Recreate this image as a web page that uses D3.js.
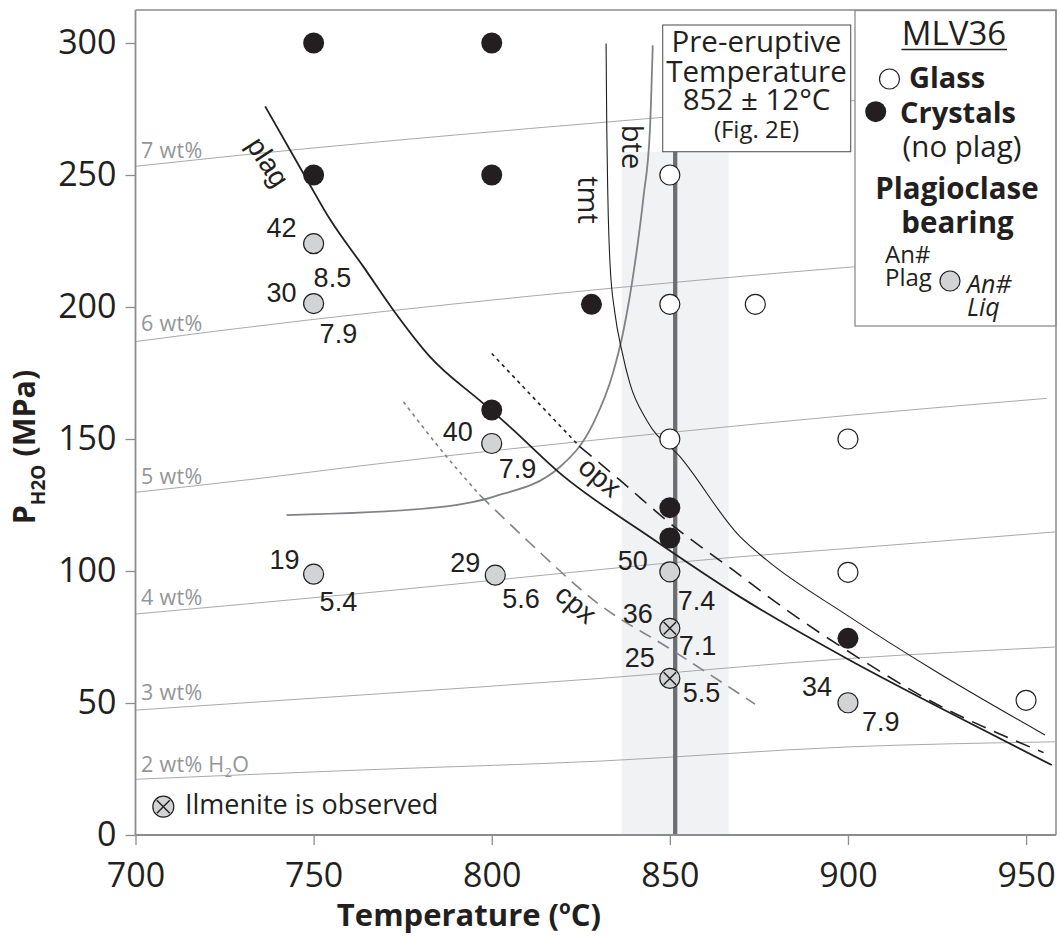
<!DOCTYPE html>
<html><head><meta charset="utf-8">
<script src="https://cdn.jsdelivr.net/npm/d3@7/dist/d3.min.js"></script>
<style>body{margin:0;background:#fff}svg{display:block}</style>
</head><body>
<script>
// ---------- DATA ----------
const xTicks = [700, 750, 800, 850, 900, 950];
const yTicks = [0, 50, 100, 150, 200, 250, 300];

// Glass only (open circles)
const glassPts = [[850, 250], [850, 201], [874, 201], [850, 150], [900, 150], [900, 99.5], [950, 51]];
// Crystals, no plagioclase (filled black)
const crystalPts = [[750, 300], [800, 300], [750, 250], [800, 250], [828, 201], [800, 161], [850, 124], [850, 112.5], [900, 74.5]];
// Plagioclase bearing: T, P, An# plag, An# liq, ilmenite observed
const plagT = [750, 750, 800, 750, 801, 850, 850, 850, 900];
const plagP = [224, 201.3, 148.3, 98.8, 98.4, 99.7, 78.3, 59.3, 50.1];
const anPlag = ["42", "30", "40", "19", "29", "50", "36", "25", "34"];
const anLiq = ["8.5", "7.9", "7.9", "5.4", "5.6", "7.4", "7.1", "5.5", "7.9"];
const ilmenite = [false, false, false, false, false, false, true, true, false];

// Phase-in curves (T °C, P MPa)
const plagCurve = [[736.4, 276], [748.1, 248.3], [754.6, 233.2], [764, 215.2], [772.4, 198.8], [782.7, 181.1], [797.6, 163.5], [805.1, 154.6], [819.2, 137], [844.4, 112.9], [869.7, 90.2], [900.4, 66.3], [928.7, 46.2], [957.2, 26.5]];
const opxDotted = [[800, 182.4], [812, 165.2], [824.8, 147]];
const opxDashed = [[824.8, 147], [836, 134.4], [850.1, 118], [867.8, 100.3], [882.8, 85.2], [902.5, 67.5], [920.2, 53], [954.9, 31.2]];
const cpxDotted = [[775.2, 164.1], [787.4, 143.2], [796.7, 128.7]];
const cpxDashed = [[796.7, 128.7], [810.8, 110.5], [830.4, 87.1], [849.1, 71.3], [873.9, 49.6]];
const tmtCurve = [[832.1, 299.8], [832.3, 266.9], [832.6, 241.7], [833.2, 216.5], [834.6, 197.5], [836.5, 183.6], [838.8, 171], [843.5, 157.1], [852.9, 143.2], [869.7, 113], [877.2, 104.1], [899.7, 83.3], [924, 62.5], [955.3, 37.9]];
const bteCurve = [[742.4, 121.2], [781.8, 123.7], [800.4, 128.1], [819.2, 139.5], [828.5, 155.9], [834.1, 175.3], [837, 191.2], [840.2, 216.5], [842.6, 241.7], [844.4, 266.9], [845.2, 299.1]];

// H2O solubility isopleths
const iso7 = [[700, 253.3], [726.5, 257.1], [810.6, 267.6], [847.7, 271.8], [900, 278], [958, 284]];
const iso6 = [[700, 186.9], [726.5, 191.5], [810.7, 204.1], [858.4, 210.2], [901.5, 215.2], [958, 220.5]];
const iso5 = [[700, 129.8], [735, 135.1], [763, 139.8], [847.2, 152.1], [900.6, 159], [955.8, 165.4]];
const iso4 = [[700, 83.7], [763, 91.5], [869.7, 105.4], [900.6, 108.6], [958.1, 114.8]];
const iso3 = [[700, 47.3], [763, 53], [830.4, 59.3], [900.6, 66.9], [958.1, 71.2]];
const iso2 = [[700, 21.1], [763, 24.6], [830.4, 28], [900.6, 33.4], [958.1, 35.3]];
const isoLabels = ["7 wt%", "6 wt%", "5 wt%", "4 wt%", "3 wt%", "2 wt%"];

// Pre-eruptive temperature estimate (band drawn)
const preT = 851.5;
const bandT = [836.5, 866.5];

// ---------- LAYOUT ----------
const W = 1060, H = 937;
const pL = 135.5, pR = 1056, pT = 10, pB = 835;
const plagLabelOff = [[-17, -7], [-17, -2], [-19, -2], [-14, -5], [-15, -3], [-22, -2], [-17, -5], [-15, -11], [-16, -7]];
const liqLabelOff = [[0, 43], [6, 39], [7, 35], [6, 37], [7, 33], [8, 38], [9, 27], [13, 24], [14, 28]];

const INK = "#231f20", GREY = "#d1d3d4", AXIS = "#8a8c8e", ISO = "#a7a9ac", ISOTXT = "#939598";
const MYR = "'Open Sans', 'Noto Sans', sans-serif";
const HEL = "'Liberation Sans', Arial, sans-serif";

const svg = d3.select("body").append("svg").attr("width", W).attr("height", H);
const x = d3.scaleLinear().domain([700, 958.4]).range([pL, pR]);
const y = d3.scaleLinear().domain([0, 312.5]).range([pB, pT]);

const line = d3.line().x(d => x(d[0])).y(d => y(d[1])).curve(d3.curveMonotoneX);

// shaded band
svg.append("rect").attr("x", x(bandT[0])).attr("y", 152).attr("width", x(bandT[1]) - x(bandT[0]))
  .attr("height", pB - 152).attr("fill", "#f1f2f3");

// isopleths
const isos = [iso7, iso6, iso5, iso4, iso3, iso2];
svg.append("g").selectAll("path").data(isos).join("path")
  .attr("d", line).attr("fill", "none").attr("stroke", ISO).attr("stroke-width", 1);

// isopleth labels
const isoLabY = [158.3, 330.7, 484.3, 605, 700, 771.7];
isoLabels.forEach((t, i) => {
  const tx = svg.append("text").attr("x", 141).attr("y", isoLabY[i])
    .attr("font-family", MYR).attr("font-size", 21.5).attr("letter-spacing", 0.3).attr("fill", ISOTXT).text(t);
  if (i === 5) {
    tx.append("tspan").text(" H");
    tx.append("tspan").attr("font-size", 13).attr("dy", 5).text("2");
    tx.append("tspan").attr("dy", -5).text("O");
  }
});

// vertical pre-eruptive line
svg.append("line").attr("x1", x(preT)).attr("x2", x(preT)).attr("y1", 152).attr("y2", pB)
  .attr("stroke", "#6d6e71").attr("stroke-width", 4.3);

// curves
svg.append("path").attr("d", line(bteCurve)).attr("fill", "none").attr("stroke", "#808285").attr("stroke-width", 1.8);
svg.append("path").attr("d", line(tmtCurve)).attr("fill", "none").attr("stroke", INK).attr("stroke-width", 1.1);
svg.append("path").attr("d", line(plagCurve)).attr("fill", "none").attr("stroke", INK).attr("stroke-width", 1.8);
svg.append("path").attr("d", line(opxDotted)).attr("fill", "none").attr("stroke", INK).attr("stroke-width", 1.6).attr("stroke-dasharray", "3.5,4");
svg.append("path").attr("d", line(opxDashed)).attr("fill", "none").attr("stroke", INK).attr("stroke-width", 1.6).attr("stroke-dasharray", "15,9");
svg.append("path").attr("d", line(cpxDotted)).attr("fill", "none").attr("stroke", "#808285").attr("stroke-width", 1.6).attr("stroke-dasharray", "3.5,4");
svg.append("path").attr("d", line(cpxDashed)).attr("fill", "none").attr("stroke", "#808285").attr("stroke-width", 1.6).attr("stroke-dasharray", "13,8");

// curve labels
function curveLabel(t, cx, cy, rot, fam, size) {
  svg.append("text").attr("transform", `translate(${cx},${cy}) rotate(${rot})`)
    .attr("text-anchor", "middle").attr("dominant-baseline", "central")
    .attr("font-family", fam).attr("font-size", size).attr("fill", INK).text(t);
}
curveLabel("plag", 268, 162, 57, HEL, 28);
curveLabel("opx", 600, 477, 40, HEL, 28);
curveLabel("cpx", 576, 604, 40, HEL, 28);
curveLabel("tmt", 589, 200, 90, MYR, 29);
curveLabel("bte", 633, 147, 90, MYR, 29);

// points
function ilmX(g, cx, cy, r) {
  const k = r * 0.62;
  g.append("path").attr("d", `M${cx - k},${cy - k}L${cx + k},${cy + k}M${cx - k},${cy + k}L${cx + k},${cy - k}`)
    .attr("stroke", INK).attr("stroke-width", 1.4);
}
const gp = svg.append("g");
gp.selectAll(".gl").data(glassPts).join("circle").attr("cx", d => x(d[0])).attr("cy", d => y(d[1])).attr("r", 10)
  .attr("fill", "#fff").attr("stroke", INK).attr("stroke-width", 1.2);
gp.selectAll(".cr").data(crystalPts).join("circle").attr("cx", d => x(d[0])).attr("cy", d => y(d[1])).attr("r", 10.5)
  .attr("fill", INK);
plagT.forEach((t, i) => {
  const cx = x(t), cy = y(plagP[i]);
  gp.append("circle").attr("cx", cx).attr("cy", cy).attr("r", 10).attr("fill", GREY).attr("stroke", INK).attr("stroke-width", 1.2);
  if (ilmenite[i]) ilmX(gp, cx, cy, 10);
  gp.append("text").attr("x", cx + plagLabelOff[i][0]).attr("y", cy + plagLabelOff[i][1]).attr("text-anchor", "end")
    .attr("font-family", HEL).attr("font-size", 27).attr("fill", INK).text(anPlag[i]);
  gp.append("text").attr("x", cx + liqLabelOff[i][0]).attr("y", cy + liqLabelOff[i][1])
    .attr("font-family", HEL).attr("font-size", 27).attr("fill", INK).text(anLiq[i]);
});

// Pre-eruptive box
svg.append("rect").attr("x", 662.7).attr("y", 25).attr("width", 188).attr("height", 126.7)
  .attr("fill", "#fff").attr("stroke", "#58595b").attr("stroke-width", 1.1);
[["Pre-eruptive", 51.7, 29.5], ["Temperature", 81.7, 29.5], ["852 ± 12°C", 110, 29.5], ["(Fig. 2E)", 138.3, 24]].forEach(d => {
  svg.append("text").attr("x", 756.5).attr("y", d[1]).attr("text-anchor", "middle")
    .attr("font-family", MYR).attr("font-size", d[2]).attr("fill", INK).text(d[0]);
});

// Legend box
svg.append("rect").attr("x", 855).attr("y", 10.5).attr("width", 201).attr("height", 315.5)
  .attr("fill", "#fff").attr("stroke", AXIS).attr("stroke-width", 1.3);
svg.append("text").attr("x", 954).attr("y", 45).attr("text-anchor", "middle").attr("font-family", MYR)
  .attr("font-size", 33).attr("fill", INK).text("MLV36");
svg.append("line").attr("x1", 901.5).attr("x2", 1007).attr("y1", 49.5).attr("y2", 49.5).attr("stroke", INK).attr("stroke-width", 1.3);
svg.append("circle").attr("cx", 889.5).attr("cy", 79).attr("r", 10).attr("fill", "#fff").attr("stroke", INK).attr("stroke-width", 1.2);
svg.append("text").attr("x", 909).attr("y", 88.3).attr("font-family", MYR).attr("font-weight", "bold")
  .attr("font-size", 29).attr("fill", INK).text("Glass");
svg.append("circle").attr("cx", 875.7).attr("cy", 111.7).attr("r", 10.5).attr("fill", INK);
svg.append("text").attr("x", 900).attr("y", 123.3).attr("font-family", MYR).attr("font-weight", "bold")
  .attr("font-size", 29).attr("fill", INK).text("Crystals");
svg.append("text").attr("x", 962).attr("y", 157).attr("text-anchor", "middle").attr("font-family", MYR)
  .attr("font-size", 29.5).attr("fill", INK).text("(no plag)");
svg.append("text").attr("x", 957).attr("y", 199.3).attr("text-anchor", "middle").attr("font-family", MYR).attr("font-weight", "bold")
  .attr("font-size", 29.5).attr("fill", INK).text("Plagioclase");
svg.append("text").attr("x", 957.5).attr("y", 233.3).attr("text-anchor", "middle").attr("font-family", MYR).attr("font-weight", "bold")
  .attr("font-size", 29.5).attr("fill", INK).text("bearing");
svg.append("text").attr("x", 885).attr("y", 263.3).attr("font-family", MYR).attr("font-size", 24).attr("fill", INK).text("An#");
svg.append("text").attr("x", 885).attr("y", 286).attr("font-family", MYR).attr("font-size", 24).attr("fill", INK).text("Plag");
svg.append("circle").attr("cx", 950).attr("cy", 281).attr("r", 10).attr("fill", GREY).attr("stroke", INK).attr("stroke-width", 1.2);
svg.append("text").attr("x", 967).attr("y", 293.3).attr("font-family", MYR).attr("font-style", "italic").attr("font-size", 25).attr("fill", INK).text("An#");
svg.append("text").attr("x", 967).attr("y", 315.5).attr("font-family", MYR).attr("font-style", "italic").attr("font-size", 25).attr("fill", INK).text("Liq");

// Ilmenite key
svg.append("circle").attr("cx", 163.3).attr("cy", 806.7).attr("r", 10.5).attr("fill", GREY).attr("stroke", INK).attr("stroke-width", 1.2);
ilmX(svg, 163.3, 806.7, 10.5);
svg.append("text").attr("x", 185).attr("y", 813.5).attr("font-family", MYR).attr("font-size", 27).attr("fill", INK).text("Ilmenite is observed");

// plot border (top/right)
svg.append("path").attr("d", `M${pL},${pT}H${pR}V${pB}`).attr("fill", "none").attr("stroke", AXIS).attr("stroke-width", 1.5);

// axes
const yAxis = svg.append("g").attr("transform", `translate(${pL},0)`)
  .call(d3.axisLeft(y).tickValues(yTicks).tickSize(10).tickSizeOuter(0).tickPadding(9));
const xAxis = svg.append("g").attr("transform", `translate(0,${pB})`)
  .call(d3.axisBottom(x).tickValues(xTicks).tickSize(10).tickSizeOuter(0).tickPadding(18));
[yAxis, xAxis].forEach(a => {
  a.select(".domain").attr("stroke", AXIS).attr("stroke-width", 1.8);
  a.selectAll(".tick line").attr("stroke", AXIS).attr("stroke-width", 1.3);
  a.selectAll(".tick text").attr("font-family", MYR).attr("font-size", 34).attr("fill", INK);
});
yAxis.select(".domain").attr("d", `M0,${pT}V${pB}`);
xAxis.select(".domain").attr("d", `M${pL},0H${pR}`);

// axis titles
const xt = svg.append("text").attr("x", 469).attr("y", 926).attr("text-anchor", "middle").attr("font-family", MYR)
  .attr("font-weight", "bold").attr("font-size", 31).attr("fill", INK).text("Temperature (");
xt.append("tspan").attr("font-size", 19).attr("dy", -12).text("o");
xt.append("tspan").attr("dy", 12).text("C)");

const yt = svg.append("text").attr("transform", "translate(35,447) rotate(-90)").attr("text-anchor", "middle")
  .attr("font-family", MYR).attr("font-weight", "bold").attr("font-size", 30.5).attr("fill", INK).text("P");
yt.append("tspan").attr("font-size", 19).attr("dy", 10).text("H2O");
yt.append("tspan").attr("dy", -10).text(" (MPa)");
</script>
</body></html>
